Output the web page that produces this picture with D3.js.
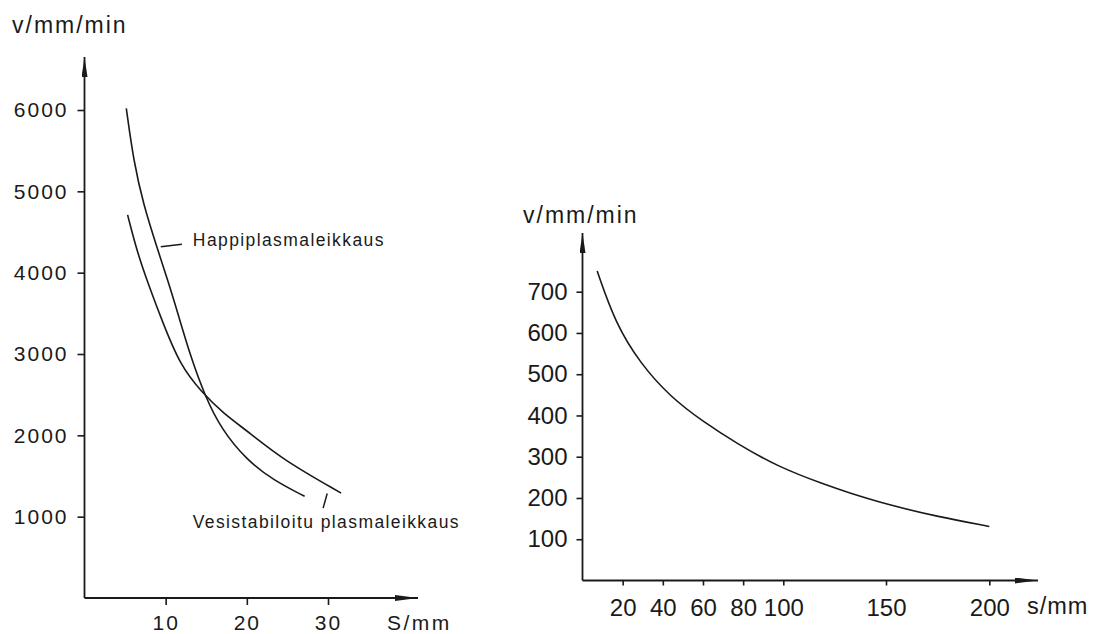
<!DOCTYPE html>
<html>
<head>
<meta charset="utf-8">
<script src="https://cdn.jsdelivr.net/npm/d3@7"></script>
<style>
  body { margin: 0; background: #fff; }
  svg { display: block; }
  text { font-family: "Liberation Sans", Arial, sans-serif; fill: #1a1a1a; }
</style>
</head>
<body>
<div id="chart"></div>
<script>
// left chart: cutting speed vs thickness, two processes
const happiS = [5.15, 6.05, 7.28, 8.9, 10.34, 11.5, 13.0, 14.85, 16.9, 19.96, 23.23, 27.12];
const happiV = [6020, 5370, 4830, 4320, 3880, 3500, 2990, 2480, 2070, 1700, 1450, 1250];
const vesiS = [5.31, 6.47, 7.89, 9.55, 11.78, 14.44, 17.09, 20.37, 24.45, 31.62];
const vesiV = [4710, 4260, 3850, 3410, 2860, 2530, 2270, 2030, 1700, 1290];
const leftSTicks = [10, 20, 30];
const leftVTicks = [1000, 2000, 3000, 4000, 5000, 6000];

// right chart: single curve
const rightS = [7.3, 16.4, 28.8, 43.7, 60.3, 76.9, 97.5, 121, 131, 152, 175, 200];
const rightV = [750, 623, 526, 445, 384, 332, 275, 231, 214, 182, 155, 131];
const rightSTicks = [20, 40, 60, 80, 100, 150, 200];
const rightVTicks = [100, 200, 300, 400, 500, 600, 700];

const labelHappi = 'Happiplasmaleikkaus';
const labelVesi = 'Vesistabiloitu plasmaleikkaus';

const W = 1093;
const H = 634;
const ink = '#1a1a1a';

const svg = d3.select('#chart').append('svg')
  .attr('width', W)
  .attr('height', H);

const defs = svg.append('defs');
function arrow(id, len, half) {
  defs.append('marker')
    .attr('id', id)
    .attr('markerUnits', 'userSpaceOnUse')
    .attr('viewBox', `0 0 ${len} ${half * 2}`)
    .attr('refX', len)
    .attr('refY', half)
    .attr('markerWidth', len)
    .attr('markerHeight', half * 2)
    .attr('orient', 'auto')
    .append('path')
    .attr('d', `M0,0L${len},${half}L0,${half * 2}Z`)
    .attr('fill', ink);
}
arrow('arrY', 20, 3);
arrow('arrX', 23, 3);

function styleAxis(g, size, spacing) {
  g.select('.domain').remove();
  g.selectAll('.tick line').attr('stroke', ink).attr('stroke-width', 1.6);
  g.selectAll('.tick text')
    .attr('fill', ink)
    .style('font-family', '"Liberation Sans", Arial, sans-serif')
    .style('font-size', `${size}px`)
    .style('letter-spacing', `${spacing}px`);
}

// ---------- left chart ----------
const xL = d3.scaleLinear().domain([0, 30]).range([84.5, 328]);
const yL = d3.scaleLinear().domain([0, 6000]).range([598, 110]);
const gL = svg.append('g');

gL.append('g')
  .attr('transform', `translate(${xL(0)},0)`)
  .call(d3.axisLeft(yL).tickValues(leftVTicks).tickSize(7).tickPadding(9).tickFormat(d3.format('d')))
  .call((g) => styleAxis(g, 21, 2));

gL.append('g')
  .attr('transform', `translate(0,${yL(0)})`)
  .call(d3.axisBottom(xL).tickValues(leftSTicks).tickSize(7).tickPadding(10))
  .call((g) => styleAxis(g, 21, 2));

gL.append('line')
  .attr('x1', xL(0)).attr('y1', yL(0))
  .attr('x2', xL(0)).attr('y2', 57)
  .attr('stroke', ink).attr('stroke-width', 1.8)
  .attr('marker-end', 'url(#arrY)');
gL.append('line')
  .attr('x1', xL(0)).attr('y1', yL(0))
  .attr('x2', 418).attr('y2', yL(0))
  .attr('stroke', ink).attr('stroke-width', 1.8)
  .attr('marker-end', 'url(#arrX)');

const lineL = d3.line()
  .x((d) => xL(d[0]))
  .y((d) => yL(d[1]))
  .curve(d3.curveBasis);

gL.append('path')
  .datum(d3.zip(happiS, happiV))
  .attr('d', lineL)
  .attr('fill', 'none').attr('stroke', ink).attr('stroke-width', 1.6);
gL.append('path')
  .datum(d3.zip(vesiS, vesiV))
  .attr('d', lineL)
  .attr('fill', 'none').attr('stroke', ink).attr('stroke-width', 1.6);

// curve labels with leader lines
gL.append('line')
  .attr('x1', xL(9.4)).attr('y1', yL(4320))
  .attr('x2', xL(12)).attr('y2', yL(4350))
  .attr('stroke', ink).attr('stroke-width', 1.5);
gL.append('text')
  .attr('x', xL(13.35)).attr('y', yL(4330))
  .style('font-size', '17.5px').style('letter-spacing', '1.4px')
  .text(labelHappi);

gL.append('line')
  .attr('x1', xL(29.9)).attr('y1', yL(1285))
  .attr('x2', xL(29.4)).attr('y2', yL(1105))
  .attr('stroke', ink).attr('stroke-width', 1.5);
gL.append('text')
  .attr('x', xL(13.33)).attr('y', yL(860))
  .style('font-size', '17.5px').style('letter-spacing', '1.4px')
  .text(labelVesi);

gL.append('text')
  .attr('x', 12).attr('y', 33)
  .style('font-size', '23px').style('letter-spacing', '2px')
  .text('v/mm/min');
gL.append('text')
  .attr('x', 387).attr('y', 630)
  .style('font-size', '21px').style('letter-spacing', '2.5px')
  .text('S/mm');

// ---------- right chart ----------
const xR = d3.scaleLinear().domain([0, 100, 150, 200]).range([582.5, 783.3, 886, 989.3]);
const yR = d3.scaleLinear().domain([0, 700]).range([580.5, 291.7]);
const gR = svg.append('g');

gR.append('g')
  .attr('transform', `translate(${xR(0)},0)`)
  .call(d3.axisLeft(yR).tickValues(rightVTicks).tickSize(6).tickPadding(9))
  .call((g) => styleAxis(g, 24, 0));

gR.append('g')
  .attr('transform', `translate(0,${yR(0)})`)
  .call(d3.axisBottom(xR).tickValues(rightSTicks).tickSize(5).tickPadding(13))
  .call((g) => styleAxis(g, 24, 0));

gR.append('line')
  .attr('x1', xR(0)).attr('y1', yR(0))
  .attr('x2', xR(0)).attr('y2', 233)
  .attr('stroke', ink).attr('stroke-width', 1.8)
  .attr('marker-end', 'url(#arrY)');
gR.append('line')
  .attr('x1', xR(0)).attr('y1', yR(0))
  .attr('x2', 1038).attr('y2', yR(0))
  .attr('stroke', ink).attr('stroke-width', 1.8)
  .attr('marker-end', 'url(#arrX)');

const lineR = d3.line()
  .x((d) => xR(d[0]))
  .y((d) => yR(d[1]))
  .curve(d3.curveBasis);

gR.append('path')
  .datum(d3.zip(rightS, rightV))
  .attr('d', lineR)
  .attr('fill', 'none').attr('stroke', ink).attr('stroke-width', 1.6);

gR.append('text')
  .attr('x', 523).attr('y', 223)
  .style('font-size', '23px').style('letter-spacing', '2px')
  .text('v/mm/min');
gR.append('text')
  .attr('x', 1027).attr('y', 614)
  .style('font-size', '23.5px').style('letter-spacing', '1px')
  .text('s/mm');
</script>
</body>
</html>
